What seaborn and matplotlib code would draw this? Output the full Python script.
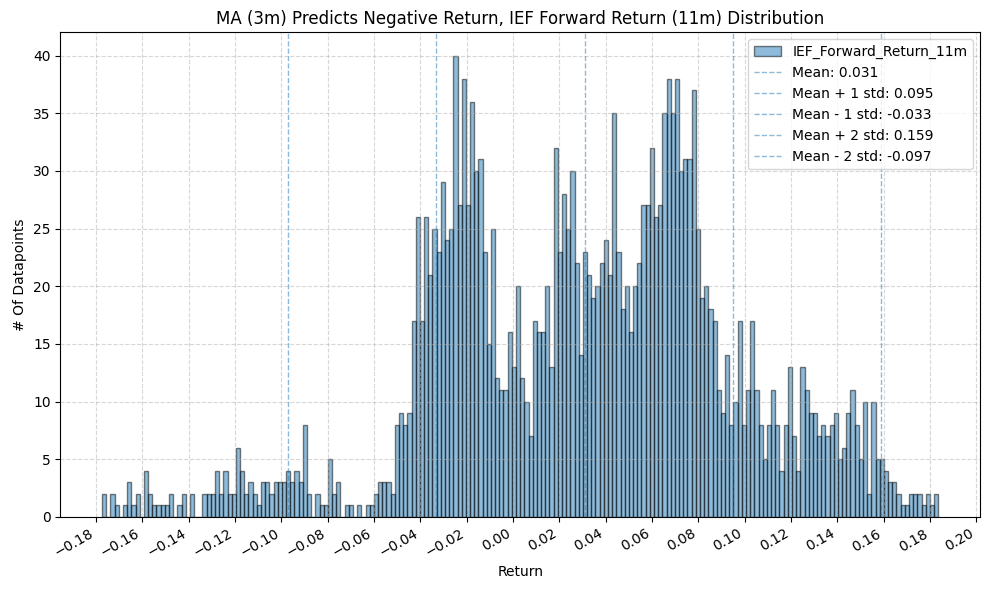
import numpy as np
import pandas as pd
import matplotlib
matplotlib.use("Agg")
import matplotlib.pyplot as plt
import seaborn as sns

# histogram counts per bin (200 bins)
counts = [
    2, 0, 2, 1, 0, 1, 3, 1, 2, 0, 4, 2, 1, 1, 1, 1, 2, 0, 1, 2,
    0, 2, 0, 0, 2, 2, 2, 4, 2, 4, 2, 2, 6, 4, 2, 3, 2, 1, 3, 3,
    2, 3, 3, 3, 4, 3, 4, 3, 8, 2, 0, 2, 1, 1, 5, 2, 3, 0, 1, 1,
    0, 1, 0, 1, 1, 2, 3, 3, 3, 2, 8, 9, 8, 9, 17, 26, 17, 26, 21, 25,
    23, 29, 24, 25, 40, 27, 38, 27, 36, 30, 31, 23, 15, 25, 12, 11, 11, 16, 13, 20,
    12, 10, 7, 17, 16, 16, 20, 13, 32, 23, 28, 25, 30, 22, 14, 23, 21, 19, 20, 22,
    24, 21, 35, 23, 18, 20, 16, 20, 22, 27, 27, 32, 26, 27, 35, 38, 35, 38, 30, 31,
    31, 37, 25, 19, 20, 18, 17, 11, 9, 14, 8, 10, 17, 8, 11, 17, 11, 8, 5, 8,
    11, 8, 4, 8, 13, 7, 4, 13, 11, 9, 9, 7, 8, 7, 8, 9, 5, 6, 9, 11,
    8, 5, 10, 2, 10, 5, 5, 4, 3, 3, 2, 1, 1, 2, 2, 2, 1, 2, 1, 2,
]
ret_min = -0.1773
ret_max = 0.1836
mean_ret = 0.031
std_ret = 0.064
series_name = "IEF_Forward_Return_11m"

# bin centres for the weighted histogram
edges = np.linspace(ret_min, ret_max, len(counts) + 1)
centers = (edges[:-1] + edges[1:]) / 2
df = pd.DataFrame({"Return": centers, "Count": counts})

fig, ax = plt.subplots(figsize=(9.89, 5.9), dpi=100)

sns.histplot(data=df, x="Return", weights="Count", bins=len(counts),
             binrange=(ret_min, ret_max), ax=ax,
             facecolor=(0.12, 0.47, 0.71, 0.5), edgecolor=(0, 0, 0, 0.5),
             linewidth=1, label=series_name)

# mean and std lines
lines = [
    ("Mean", mean_ret),
    ("Mean + 1 std", mean_ret + std_ret),
    ("Mean - 1 std", mean_ret - std_ret),
    ("Mean + 2 std", mean_ret + 2 * std_ret),
    ("Mean - 2 std", mean_ret - 2 * std_ret),
]
for name, val in lines:
    ax.axvline(val, color="#1f77b4", linestyle="--", linewidth=1, alpha=0.5,
               label=f"{name}: {val:.3f}")

ax.set_xticks(np.arange(-0.18, 0.201, 0.02))
ax.set_yticks(np.arange(0, 41, 5))
ax.grid(True, linestyle="--", alpha=0.5)
ax.set_xlabel("Return")
ax.set_ylabel("# Of Datapoints")
ax.set_title("MA (3m) Predicts Negative Return, IEF Forward Return (11m) Distribution")

# histogram entry first in the legend
handles, labels = ax.get_legend_handles_labels()
order = [labels.index(series_name)] + [i for i, l in enumerate(labels) if l != series_name]
ax.legend([handles[i] for i in order], [labels[i] for i in order], loc="upper right")

fig.autofmt_xdate()
plt.subplots_adjust(left=0.061, right=0.991, top=0.945, bottom=0.124)
plt.savefig("out.png", dpi=100)
